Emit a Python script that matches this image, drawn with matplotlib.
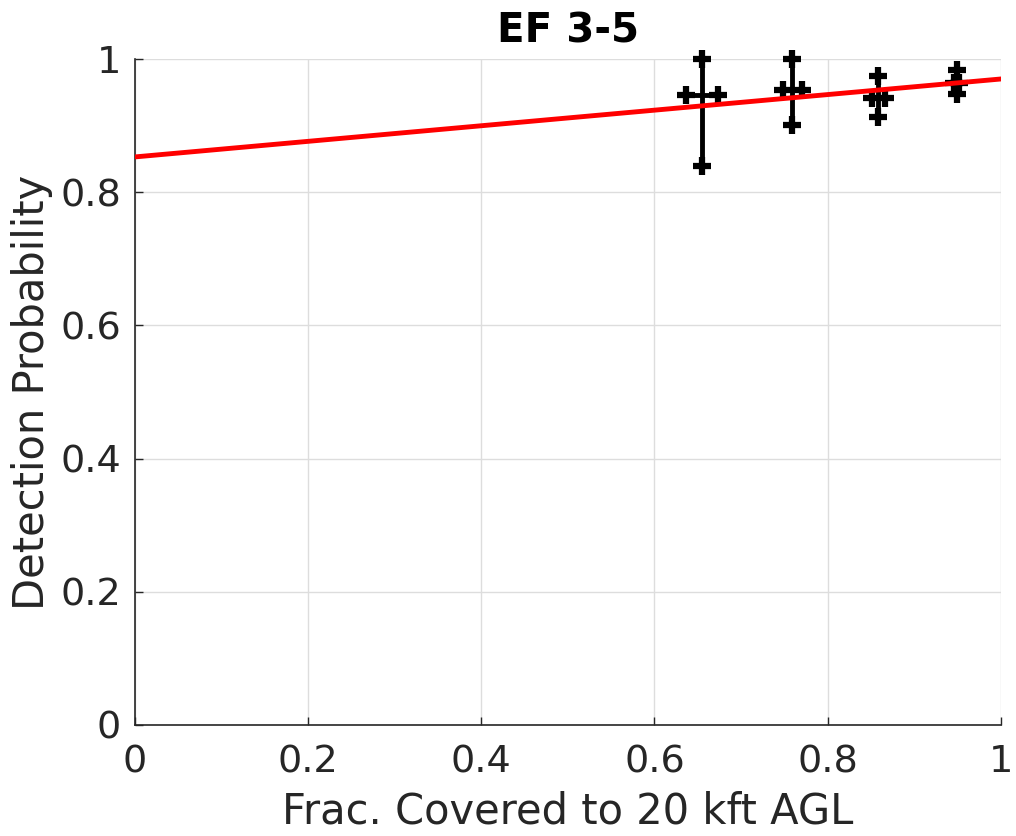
import numpy as np
from matplotlib import pyplot as plt

# points with error bars (x = fraction covered, y = detection probability)
frac = [0.655, 0.759, 0.858, 0.949]
prob = [0.946, 0.954, 0.942, 0.964]
y_lo = [0.839, 0.901, 0.913, 0.948]
y_hi = [1.000, 1.000, 0.974, 0.983]
x_lo = [0.637, 0.749, 0.851, 0.946]
x_hi = [0.674, 0.770, 0.866, 0.952]

# linear fit
fit_b = 0.853
fit_m = 0.117

ticks = [0, 0.2, 0.4, 0.6, 0.8, 1]
tick_labels = ['0', '0.2', '0.4', '0.6', '0.8', '1']

fig = plt.figure(figsize=(10.16, 8.36), dpi=100)
ax = fig.add_axes([0.1329, 0.1328, 0.852, 0.7966])

frac = np.array(frac); prob = np.array(prob)
yerr = [prob - np.array(y_lo), np.array(y_hi) - prob]
xerr = [frac - np.array(x_lo), np.array(x_hi) - frac]

eb = ax.errorbar(frac, prob, yerr=yerr, xerr=xerr, fmt='none', ecolor='black',
                 elinewidth=3.5, capsize=0, zorder=3)
for c in eb.lines[2]:
    c.set_clip_on(False)
# cap markers at the ends of each bar
for xs, ys in [(frac, y_lo), (frac, y_hi), (x_lo, prob), (x_hi, prob)]:
    ax.plot(xs, ys, '+', color='black', ms=13, mew=4.5, zorder=4, clip_on=False)

xx = np.array([0, 1])
ax.plot(xx, fit_b + fit_m * xx, color='red', lw=3.5, zorder=5)

ax.set_xlim(0, 1)
ax.set_ylim(0, 1)
ax.set_xticks(ticks)
ax.set_xticklabels(tick_labels)
ax.set_yticks(ticks)
ax.set_yticklabels(tick_labels)
ax.grid(True, color='#dddddd', lw=1)
ax.set_axisbelow(True)
for s in ['top', 'right']:
    ax.spines[s].set_visible(False)
for s in ['left', 'bottom']:
    ax.spines[s].set_color('#262626')
    ax.spines[s].set_linewidth(1.2)
ax.tick_params(direction='in', length=6, width=1, colors='#262626',
               labelsize=27.5)
ax.tick_params(axis='x', pad=14)
ax.tick_params(axis='y', pad=10)

ax.set_xlabel('Frac. Covered to 20 kft AGL', fontsize=30, color='#262626', labelpad=7)
ax.set_ylabel('Detection Probability', fontsize=30, color='#262626', labelpad=5)
ax.set_title('EF 3-5', fontsize=29, fontweight='bold', pad=12)

fig.savefig('out.png', dpi=100)
